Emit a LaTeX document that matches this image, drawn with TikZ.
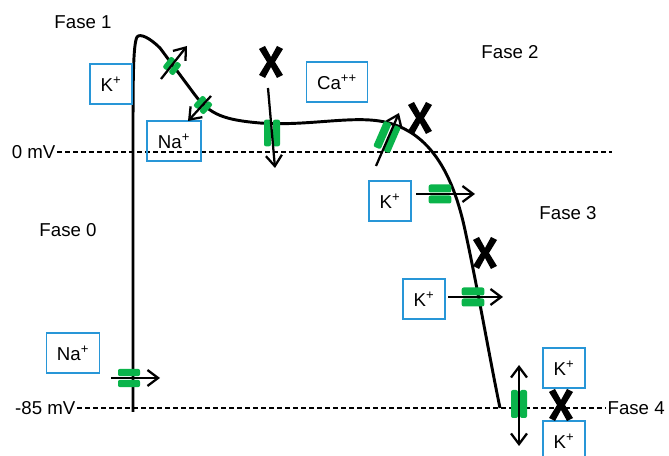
\documentclass[tikz,border=0pt]{standalone}
\usepackage{fontspec}
\setmainfont{Liberation Sans}
\usetikzlibrary{positioning,arrows.meta}
\definecolor{boxblue}{RGB}{40,150,215}
\definecolor{chgreen}{RGB}{10,180,75}

\begin{document}
\begin{tikzpicture}[x=0.75pt, y=-0.75pt, font=\fontsize{14}{16}\selectfont,
		b/.style={draw=boxblue, line width=1.1pt, minimum height=30pt, minimum width=31.5pt, inner sep=0pt},
		g/.style={fill=chgreen, rounded corners=1.5pt, inner sep=0pt},
		f/.style={line width=1.7pt, -{Straight Barb[length=8pt, width=12pt]}},
		ff/.style={line width=1.7pt, {Straight Barb[length=8pt, width=12pt]}-{Straight Barb[length=8pt, width=12pt]}},
		d/.style={dash pattern=on 4pt off 2pt, line width=1.1pt},
		ap/.style={line width=2.2pt, line join=round},
		xm/.pic={\fill (-12,-13) -- (-6,-16) -- (0,-5) -- (6,-16) -- (12,-13) -- (4,0) -- (12,13) -- (6,16) -- (0,5) -- (-6,16) -- (-12,13) -- (-4,0) -- cycle;}]
		\useasboundingbox (0,0) rectangle (669,456);

		% phases and levels
		\node (F1) at (83,22) {Fase 1};
		\node (F2) at (510,52) {Fase 2};
		\node (F0) at (68,230) {Fase 0};
		\node (F3) at (568,213) {Fase 3};
		\node[anchor=west, inner sep=1pt] (F4) at (606,408) {Fase 4};
		\node[anchor=east, inner sep=1pt] (V0) at (57,152) {0 mV};
		\node[anchor=east, inner sep=1pt] (V85) at (77,408) {-85 mV};
		\coordinate (V0e) at (612,152);
		\draw[d] (V0) -- (V0e);
		\draw[d] (V85) -- (F4);

		% action potential
		\draw[ap] (133,412) -- (133,150) .. controls (133,80) and (133,45) .. (137,37)
			.. controls (140,33) and (150,38) .. (160,48) -- (195,95)
			.. controls (210,115) and (225,120) .. (260,123)
			.. controls (300,126) and (340,118) .. (370,120)
			.. controls (420,123) and (450,160) .. (465,230)
			.. controls (478,290) and (490,360) .. (500,408);

		% ion boxes
		\node[b] (K1) at (111,84) {K\textsuperscript{+}};
		\node[b, minimum width=40.5pt] (Na1) at (174,141) {Na\textsuperscript{+}};
		\node[b, minimum width=46pt] (Ca) at (337,82) {Ca\textsuperscript{++}};
		\node[b] (K2) at (390,201) {K\textsuperscript{+}};
		\node[b] (K3) at (424,299) {K\textsuperscript{+}};
		\node[b, minimum width=40pt] (Na2) at (73,353) {Na\textsuperscript{+}};
		\node[b] (K4) at (564,368) {K\textsuperscript{+}};
		\node[b] (K5) at (564,441) {K\textsuperscript{+}};

		% channels
		\node[g, rotate=52, minimum width=10.5pt, minimum height=4.5pt] (G1a) at (175,68.5) {};
		\node[g, rotate=52, minimum width=10.5pt, minimum height=4.5pt] (G1b) at (169,63.5) {};
		\node[g, rotate=47, minimum width=10.5pt, minimum height=4.5pt] (G2a) at (206,107.7) {};
		\node[g, rotate=47, minimum width=10.5pt, minimum height=4.5pt] (G2b) at (200,102.3) {};
		\node[g, minimum width=5.25pt, minimum height=20pt] (G3a) at (267.5,133) {};
		\node[g, minimum width=5.25pt, minimum height=20pt] (G3b) at (276.5,133) {};
		\node[g, rotate=66.5, minimum width=21pt, minimum height=6pt] (G4a) at (391.6,139) {};
		\node[g, rotate=66.5, minimum width=21pt, minimum height=6pt] (G4b) at (382.4,135) {};
		\node[g, minimum width=17pt, minimum height=6pt] (G5a) at (440,188.5) {};
		\node[g, minimum width=17pt, minimum height=6pt] (G5b) at (440,199.5) {};
		\node[g, minimum width=17pt, minimum height=6pt] (G6a) at (473,291.5) {};
		\node[g, minimum width=17pt, minimum height=6pt] (G6b) at (473,302.5) {};
		\node[g, minimum width=16.5pt, minimum height=5.5pt] (G7a) at (129,372.5) {};
		\node[g, minimum width=16.5pt, minimum height=5.5pt] (G7b) at (129,383.5) {};
		\node[g, minimum width=5.25pt, minimum height=21pt] (G8a) at (514.5,404) {};
		\node[g, minimum width=5.25pt, minimum height=21pt] (G8b) at (523.5,404) {};

		% ion fluxes
		\coordinate (a1) at (161,79);  \coordinate (b1) at (187,46);
		\coordinate (a2) at (211,96);  \coordinate (b2) at (188,121);
		\coordinate (a3) at (268,88);  \coordinate (b3) at (275,168);
		\coordinate (a4) at (376,166); \coordinate (b4) at (399,113);
		\coordinate (a5) at (416,194); \coordinate (b5) at (475,194);
		\coordinate (a6) at (448,297); \coordinate (b6) at (503,297);
		\coordinate (a7) at (111,378); \coordinate (b7) at (160,378);
		\coordinate (a8) at (519,365); \coordinate (b8) at (519,446);
		\draw[f] (a1) -- (b1);
		\draw[f] (a2) -- (b2);
		\draw[f] (a3) -- (b3);
		\draw[f] (a4) -- (b4);
		\draw[f] (a5) -- (b5);
		\draw[f] (a6) -- (b6);
		\draw[f] (a7) -- (b7);
		\draw[ff] (a8) -- (b8);

		% blocked channels
		\pic at (271,62) {xm};
		\pic at (420,118) {xm};
		\pic at (485,253) {xm};
		\pic at (561,405) {xm};
	\end{tikzpicture}
\end{document}
